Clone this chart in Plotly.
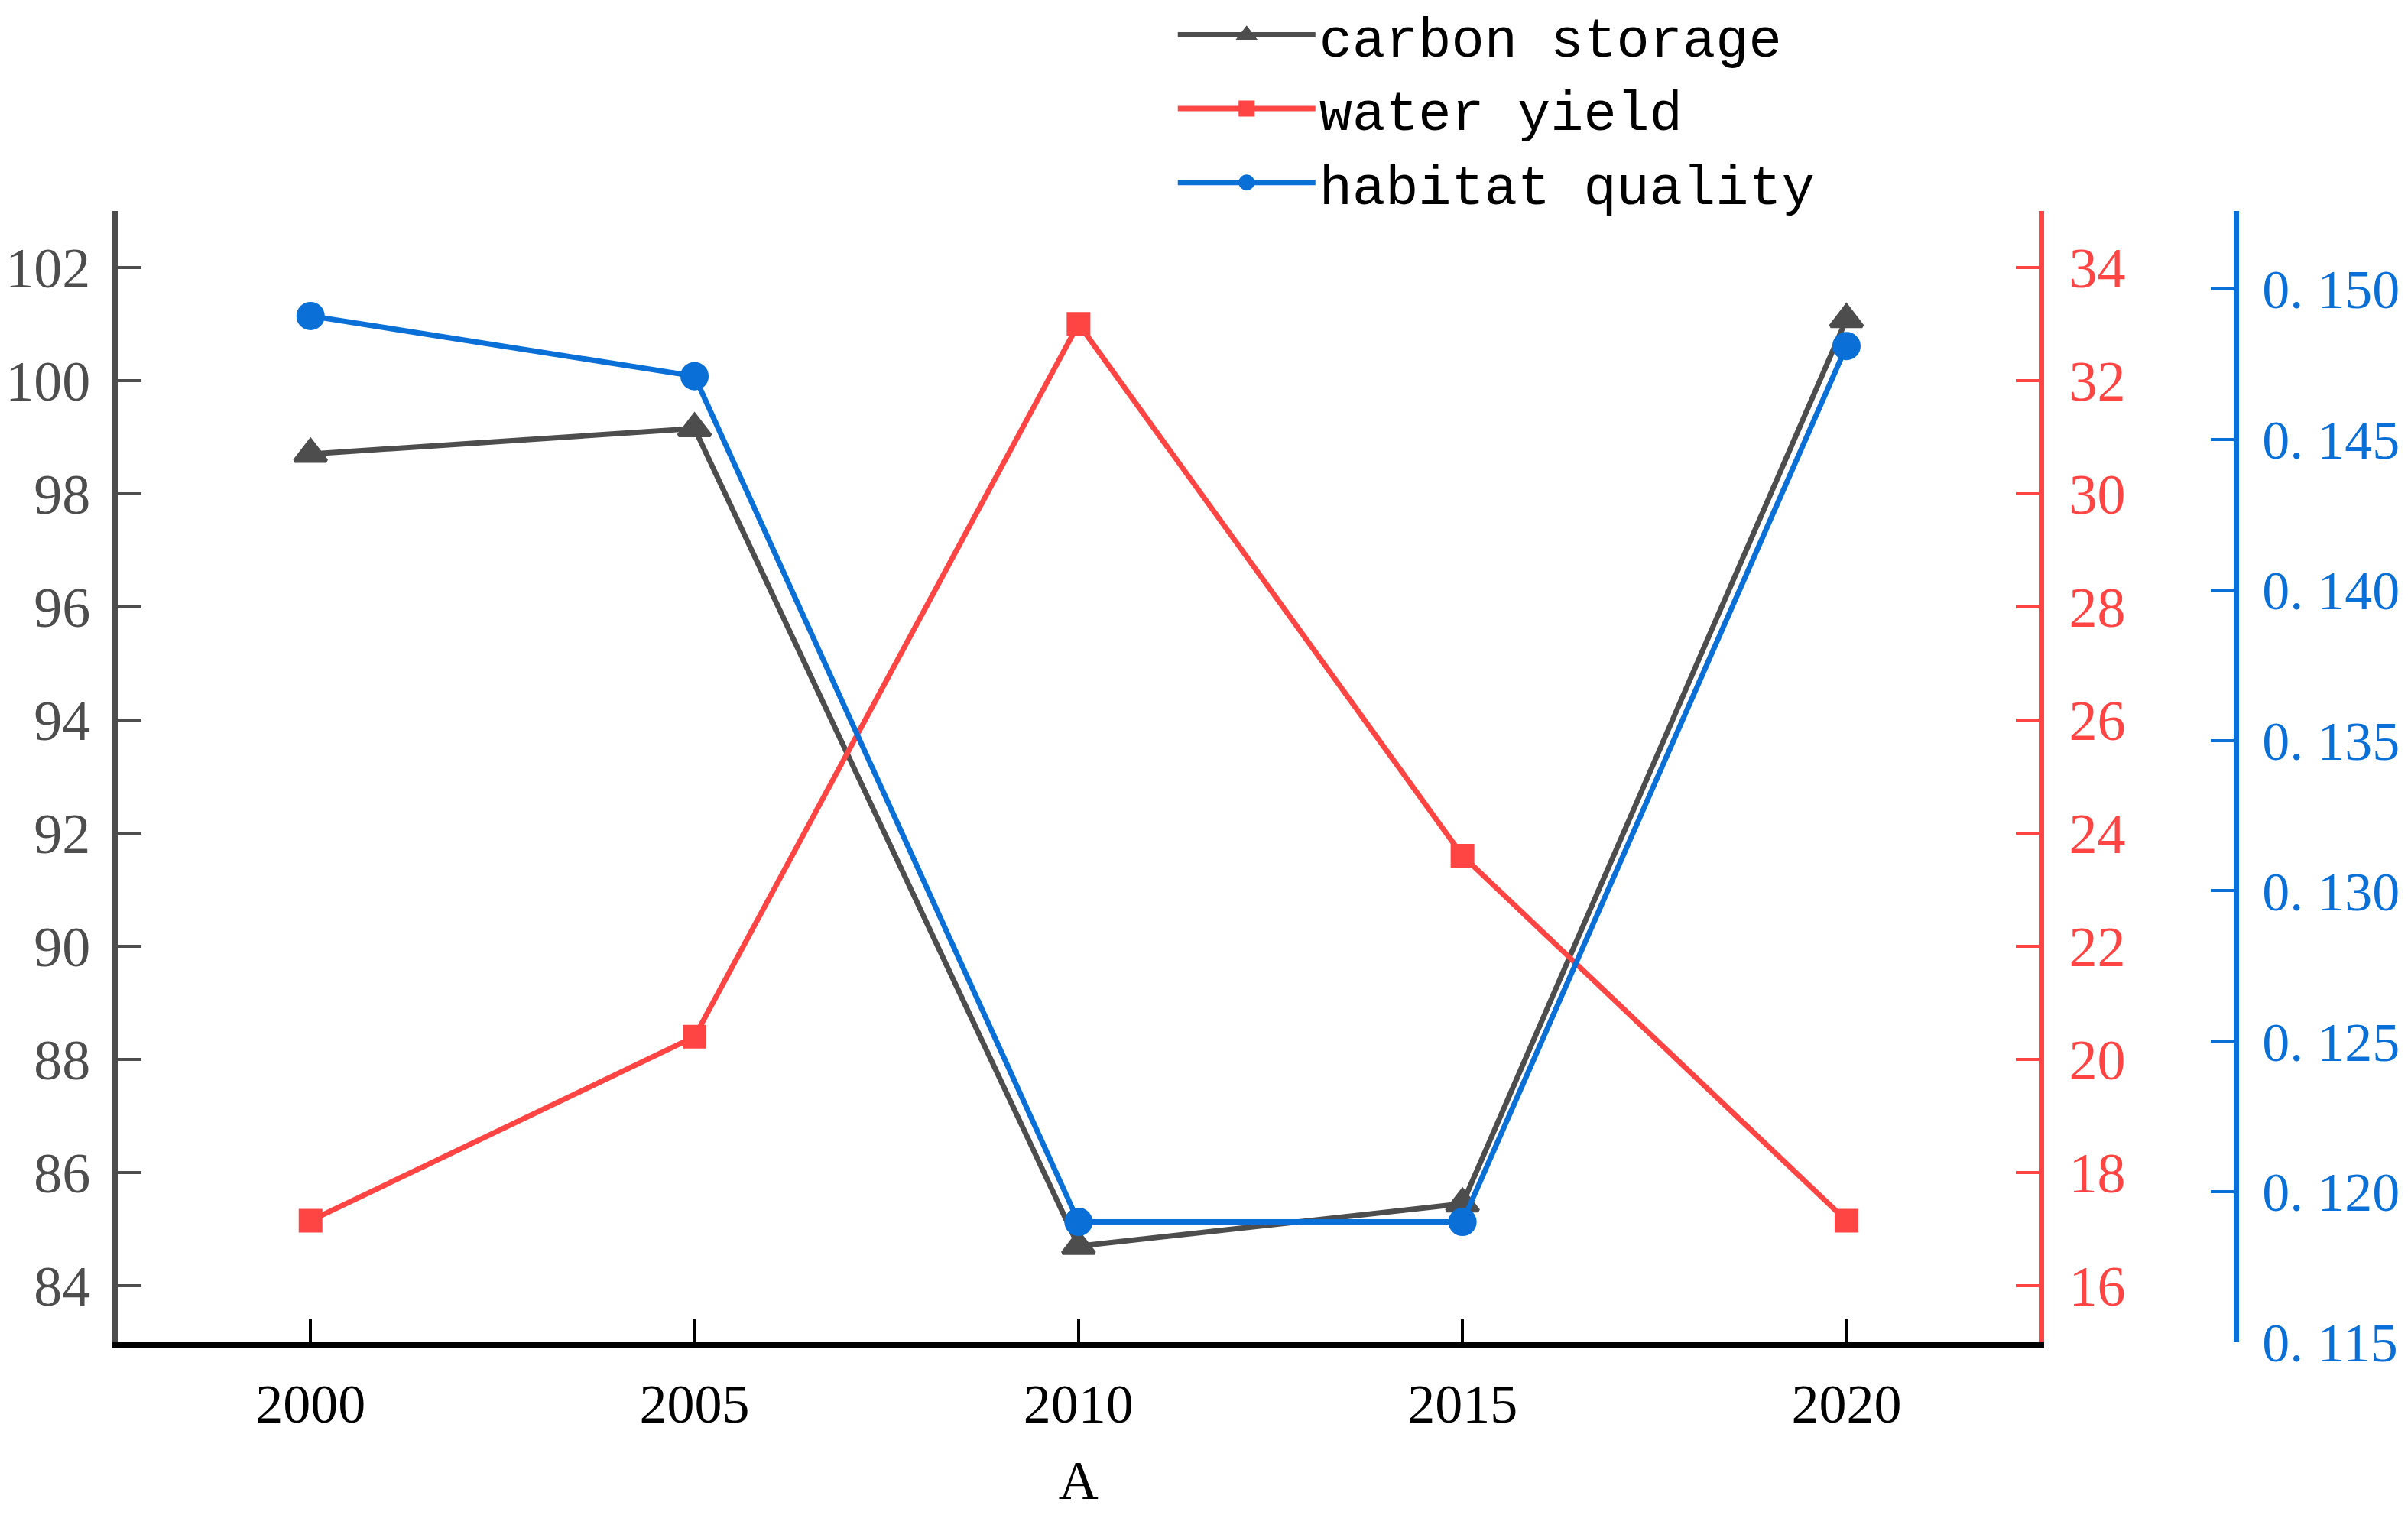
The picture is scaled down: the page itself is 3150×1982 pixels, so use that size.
import plotly.graph_objects as go

years = [2000, 2005, 2010, 2015, 2020]
carbon_storage = [98.7, 99.15, 84.7, 85.45, 101.08]
water_yield = [17.15, 20.4, 33.0, 23.6, 17.15]
habitat_quality = [0.1491, 0.1471, 0.1190, 0.1190, 0.1481]

left_ticks = [84, 86, 88, 90, 92, 94, 96, 98, 100, 102]
red_ticks = [16, 18, 20, 22, 24, 26, 28, 30, 32, 34]
blue_ticks = [0.115, 0.120, 0.125, 0.130, 0.135, 0.140, 0.145, 0.150]
blue_ticktext = ["0. 115", "0. 120", "0. 125", "0. 130", "0. 135", "0. 140", "0. 145", "0. 150"]

GRAY = "#4d4d4d"
RED = "#ff4444"
BLUE = "#0a6fd6"
SERIF = "Liberation Serif"

fig = go.Figure()
fig.add_trace(go.Scatter(x=years, y=carbon_storage, name="carbon storage", mode="lines+markers",
                         line=dict(color=GRAY, width=7),
                         marker=dict(symbol="triangle-up", size=36, color=GRAY,
                                     line=dict(color=GRAY, width=5)), yaxis="y"))
fig.add_trace(go.Scatter(x=years, y=water_yield, name="water yield", mode="lines+markers",
                         line=dict(color=RED, width=7),
                         marker=dict(symbol="square", size=26, color=RED,
                                     line=dict(color=RED, width=5)), yaxis="y2"))
fig.add_trace(go.Scatter(x=years, y=habitat_quality, name="habitat quality", mode="lines+markers",
                         line=dict(color=BLUE, width=7),
                         marker=dict(symbol="circle", size=32, color=BLUE,
                                     line=dict(color=BLUE, width=5)), yaxis="y3"))

fig.update_layout(
    width=3150, height=1982,
    paper_bgcolor="white", plot_bgcolor="white",
    margin=dict(l=0, r=0, t=0, b=0, autoexpand=False),
    xaxis=dict(domain=[0.0467, 0.844], range=[1997.5, 2022.5], tickvals=years,
               ticks="inside", ticklen=30, tickwidth=4, tickcolor="black",
               showline=True, linecolor="black", linewidth=8, showgrid=False, zeroline=False,
               tickfont=dict(family=SERIF, size=72, color="black"), ticklabelstandoff=10,
               title=dict(text="A", font=dict(family=SERIF, size=72, color="black"), standoff=38),
               automargin=False),
    yaxis=dict(domain=[0.118, 0.865], range=[83, 103], tickvals=left_ticks,
               ticks="inside", ticklen=30, tickwidth=4, tickcolor=GRAY,
               showline=True, linecolor=GRAY, linewidth=8, showgrid=False, zeroline=False,
               tickfont=dict(family=SERIF, size=74, color=GRAY), ticklabelstandoff=14,
               automargin=False),
    yaxis2=dict(range=[15, 35], tickvals=red_ticks, overlaying="y", side="right", anchor="x",
                ticks="inside", ticklen=30, tickwidth=4, tickcolor=RED,
                showline=True, linecolor=RED, linewidth=7, showgrid=False, zeroline=False,
                tickfont=dict(family=SERIF, size=74, color=RED), ticklabelstandoff=18,
                automargin=False),
    yaxis3=dict(range=[0.115, 0.1526], tickvals=blue_ticks, ticktext=blue_ticktext,
                overlaying="y", side="right", anchor="free", position=0.926,
                ticks="inside", ticklen=30, tickwidth=4, tickcolor=BLUE,
                showline=True, linecolor=BLUE, linewidth=7, showgrid=False, zeroline=False,
                tickfont=dict(family=SERIF, size=72, color=BLUE), ticklabelstandoff=16,
                automargin=False),
    legend=dict(x=0.485, y=1.008, xanchor="left", yanchor="top", bgcolor="rgba(0,0,0,0)",
                font=dict(family="Liberation Mono", size=72, color="black"),
                itemwidth=180, tracegroupgap=0),
    showlegend=True,
)

fig.write_html("out.html")
